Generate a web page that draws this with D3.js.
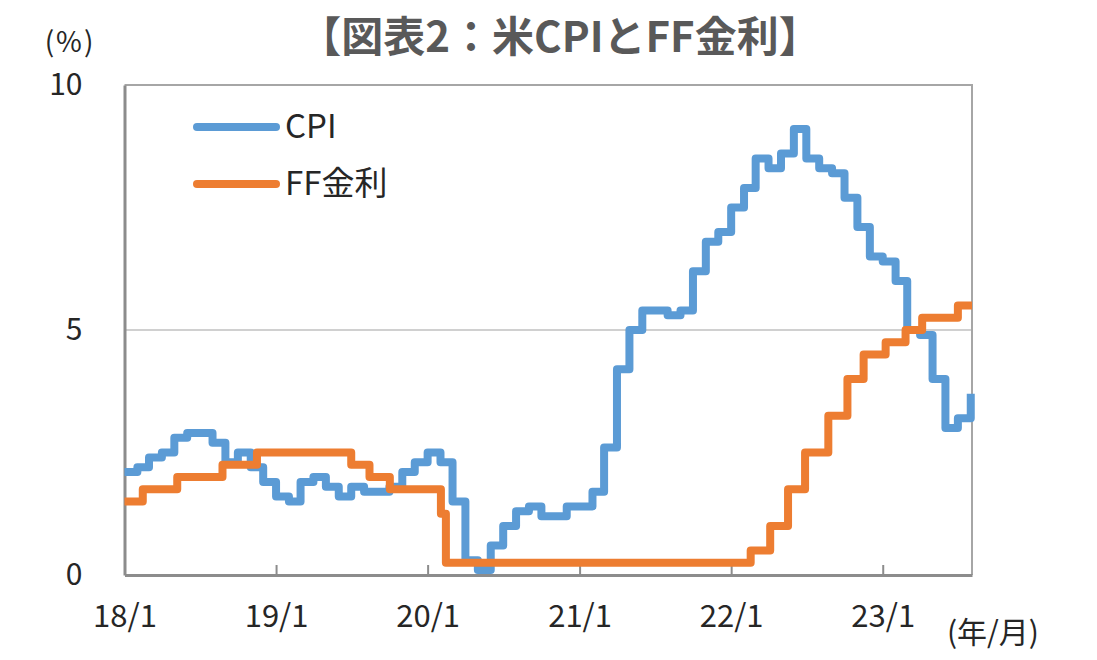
<!DOCTYPE html>
<html>
<head>
<meta charset="utf-8">
<script src="https://cdn.jsdelivr.net/npm/d3@7/dist/d3.min.js"></script>
<style>
  html, body { margin: 0; padding: 0; background: #ffffff; }
  svg { display: block; }
  text { font-family: "Noto Sans CJK JP", "Noto Sans", sans-serif; }
</style>
</head>
<body>
<svg id="chart" width="1097" height="660"></svg>
<script>
// ---- Data ----
const title = "【図表2：米CPIとFF金利】";
const seriesNames = ["CPI", "FF金利"];
const startMonth = "2018-01-01";
// US CPI (YoY %, monthly, 2018/1 .. 2023/8)
const cpiValues = [
  2.1, 2.2, 2.4, 2.5, 2.8, 2.9, 2.9, 2.7, 2.3, 2.5, 2.2, 1.9,
  1.6, 1.5, 1.9, 2.0, 1.8, 1.6, 1.8, 1.7, 1.7, 1.8, 2.1, 2.3,
  2.5, 2.3, 1.5, 0.3, 0.1, 0.6, 1.0, 1.3, 1.4, 1.2, 1.2, 1.4,
  1.4, 1.7, 2.6, 4.2, 5.0, 5.4, 5.4, 5.3, 5.4, 6.2, 6.8, 7.0,
  7.5, 7.9, 8.5, 8.3, 8.6, 9.1, 8.5, 8.3, 8.2, 7.7, 7.1, 6.5,
  6.4, 6.0, 5.0, 4.9, 4.0, 3.0, 3.2, 3.7
];
// FF rate (%): level changes as drawn on the chart
const ffDates = [
  "2018-01-01", "2018-02-14", "2018-05-08", "2018-08-25", "2018-11-16",
  "2019-07-01", "2019-08-14", "2019-10-02", "2020-02-02", "2020-02-14",
  "2022-02-17", "2022-04-05", "2022-05-18", "2022-06-28", "2022-08-23",
  "2022-10-08", "2022-11-16", "2023-01-08", "2023-02-25", "2023-04-06",
  "2023-07-01"
];
const ffValues = [
  1.5, 1.75, 2.0, 2.25, 2.5,
  2.25, 2.0, 1.75, 1.25, 0.25,
  0.5, 1.0, 1.75, 2.5, 3.25,
  4.0, 4.5, 4.75, 5.0, 5.25,
  5.5
];
const xTickDates = ["2018-01-01", "2019-01-01", "2020-01-01", "2021-01-01", "2022-01-01", "2023-01-01"];
const xTickLabels = ["18/1", "19/1", "20/1", "21/1", "22/1", "23/1"];
const yTicks = [0, 5, 10];
const xDomainEnd = "2023-08-04";

// ---- Layout ----
const svg = d3.select("#chart");
const plot = { left: 124.5, right: 972, top: 85, bottom: 575 };
const parse = d3.timeParse("%Y-%m-%d");
const colors = { cpi: "#5B9BD5", ff: "#ED7D31" };
const textColor = "#262626";

const x = d3.scaleTime()
  .domain([parse(startMonth), parse(xDomainEnd)])
  .range([plot.left, plot.right]);
const y = d3.scaleLinear().domain([0, 10]).range([plot.bottom, plot.top]);

// Title
svg.append("text")
  .attr("x", 560).attr("y", 52)
  .attr("text-anchor", "middle")
  .attr("font-size", 42).attr("font-weight", "bold")
  .attr("fill", "#595959")
  .text(title);

// Unit label
svg.append("text")
  .attr("x", 70).attr("y", 52)
  .attr("text-anchor", "middle")
  .attr("font-size", 28).attr("fill", textColor)
  .attr("letter-spacing", 2)
  .text("(%)");

// Gridline at 5
svg.append("line")
  .attr("x1", plot.left).attr("x2", plot.right)
  .attr("y1", y(5)).attr("y2", y(5))
  .attr("stroke", "#d0d0d0").attr("stroke-width", 2);

// Plot frame (top/right)
svg.append("path")
  .attr("d", `M${plot.left},${plot.top}H${plot.right}V${plot.bottom}`)
  .attr("fill", "none").attr("stroke", "#a6a6a6").attr("stroke-width", 2);

// Y axis
const yAxis = svg.append("g").attr("transform", `translate(${plot.left},0)`)
  .call(d3.axisLeft(y).tickValues(yTicks).tickSize(0).tickPadding(42));
yAxis.select(".domain").attr("stroke", "#8c8c8c").attr("stroke-width", 3);
yAxis.selectAll("text").attr("font-size", 30).attr("fill", textColor)
  .attr("font-family", "\"Noto Sans CJK JP\", sans-serif");

// X axis
const xAxis = svg.append("g").attr("transform", `translate(0,${plot.bottom})`)
  .call(d3.axisBottom(x)
    .tickValues(xTickDates.map(parse))
    .tickFormat((d, i) => xTickLabels[i])
    .tickSizeInner(-10).tickSizeOuter(0).tickPadding(30));
xAxis.select(".domain").attr("stroke", "#8c8c8c").attr("stroke-width", 3);
xAxis.selectAll(".tick line").attr("stroke", "#8c8c8c").attr("stroke-width", 2);
xAxis.selectAll("text").attr("font-size", 31).attr("fill", textColor)
  .attr("font-family", "\"Noto Sans CJK JP\", sans-serif");

svg.append("text")
  .attr("x", 993).attr("y", 643)
  .attr("text-anchor", "middle")
  .attr("font-size", 30).attr("fill", textColor)
  .text("(年/月)");

// Series
const cpiData = cpiValues.map((v, i) => ({ date: d3.timeMonth.offset(parse(startMonth), i), value: v }));
const ffData = ffDates.map((d, i) => ({ date: parse(d), value: ffValues[i] }));
ffData.push({ date: parse(xDomainEnd), value: ffValues[ffValues.length - 1] });

const line = d3.line()
  .x(d => x(d.date)).y(d => y(d.value))
  .curve(d3.curveStepAfter);

svg.append("path").datum(cpiData)
  .attr("d", line).attr("fill", "none")
  .attr("stroke", colors.cpi).attr("stroke-width", 8)
  .attr("stroke-linejoin", "round");

svg.append("path").datum(ffData)
  .attr("d", line).attr("fill", "none")
  .attr("stroke", colors.ff).attr("stroke-width", 8)
  .attr("stroke-linejoin", "round");

// Legend
const legend = [
  { name: seriesNames[0], color: colors.cpi, yy: 127 },
  { name: seriesNames[1], color: colors.ff, yy: 184 }
];
legend.forEach(l => {
  svg.append("line")
    .attr("x1", 197).attr("x2", 276).attr("y1", l.yy).attr("y2", l.yy)
    .attr("stroke", l.color).attr("stroke-width", 8).attr("stroke-linecap", "round");
  svg.append("text")
    .attr("x", 285).attr("y", l.yy + 11)
    .attr("font-size", 33).attr("fill", textColor)
    .text(l.name);
});
</script>
</body>
</html>
